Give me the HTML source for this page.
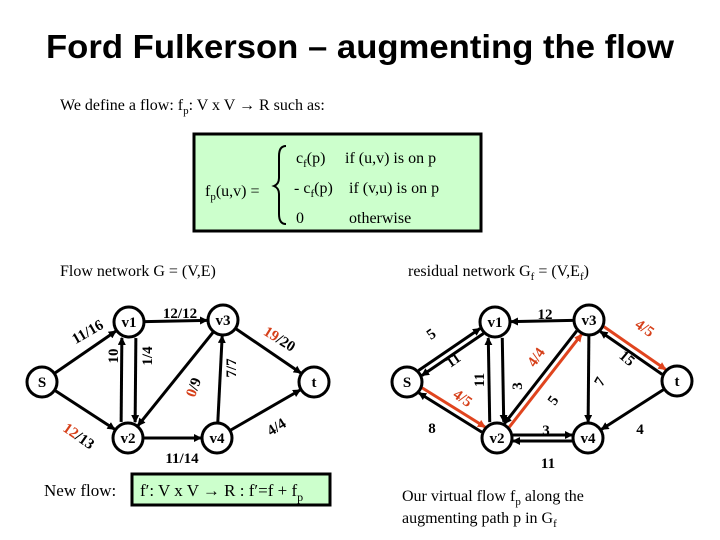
<!DOCTYPE html>
<html><head><meta charset="utf-8"><style>
body{margin:0;background:#fff}
svg{display:block}
text{font-family:"Liberation Serif",serif;font-weight:bold;fill:#000}
.n{font-size:15px}
.l{font-size:15px}
.r{fill:#d6401a}
.f{font-weight:normal;font-size:16px}
</style></head><body>
<svg id="s" width="720" height="540" viewBox="0 0 720 540" xmlns="http://www.w3.org/2000/svg">
<defs>
<marker id="a" markerWidth="8" markerHeight="8" refX="7" refY="4" orient="auto" markerUnits="userSpaceOnUse"><path d="M0,0 L8,4 L0,8 z" fill="#000"/></marker>
<marker id="ar" markerWidth="8" markerHeight="8" refX="7" refY="4" orient="auto" markerUnits="userSpaceOnUse"><path d="M0,0 L8,4 L0,8 z" fill="#e0441e"/></marker>
</defs>
<text x="360" y="58" text-anchor="middle" style="font-family:'Liberation Sans',sans-serif;font-size:33px;font-weight:bold" textLength="628" lengthAdjust="spacingAndGlyphs">Ford Fulkerson – augmenting the flow</text>
<text x="60" y="110" class="f">We define a flow: f<tspan dy="4" font-size="11">p</tspan><tspan dy="-4">: V x V → R such as:</tspan></text>

<rect x="194" y="134" width="287" height="97" fill="#ccffcc" stroke="#000" stroke-width="3"/>
<text x="205" y="196" class="f">f<tspan dy="4" font-size="11">p</tspan><tspan dy="-4">(u,v) =</tspan></text>
<path d="M286,146 Q279,146 279,156 L279,178 Q279,184 274,186 Q279,188 279,194 L279,214 Q279,224 286,224" fill="none" stroke="#000" stroke-width="2"/>
<text x="296" y="163" class="f">c<tspan dy="4" font-size="11">f</tspan><tspan dy="-4">(p)</tspan></text>
<text x="345" y="163" class="f">if (u,v) is on p</text>
<text x="294" y="193" class="f">- c<tspan dy="4" font-size="11">f</tspan><tspan dy="-4">(p)</tspan></text>
<text x="349" y="193" class="f">if (v,u) is on p</text>
<text x="296" y="223" class="f">0</text>
<text x="349" y="223" class="f">otherwise</text>

<text x="60" y="276" class="f">Flow network G = (V,E)</text>
<text x="408" y="276" class="f">residual network G<tspan dy="4" font-size="11">f</tspan><tspan dy="-4"> = (V,E</tspan><tspan dy="4" font-size="11">f</tspan><tspan dy="-4">)</tspan></text>

<text x="44" y="496" style="font-weight:normal;font-size:17px">New flow:</text>
<rect x="132" y="474" width="198" height="31" fill="#ccffcc" stroke="#000" stroke-width="3"/>
<text x="140" y="496" style="font-weight:normal;font-size:17px">f′: V x V → R :  f′=f + f<tspan dy="5" font-size="12">p</tspan></text>

<text x="402" y="501" class="f">Our virtual flow f<tspan dy="4" font-size="11">p</tspan><tspan dy="-4"> along the</tspan></text>
<text x="402" y="523" class="f">augmenting path p in G<tspan dy="4" font-size="11">f</tspan></text>
<g id="g"></g>
</svg>
<script>
var g=document.getElementById('g'),NS='http://www.w3.org/2000/svg';
function el(t,a,txt){var e=document.createElementNS(NS,t);for(var k in a)e.setAttribute(k,a[k]);if(txt!=null)e.textContent=txt;g.appendChild(e);return e;}
var L={s:[42,382],v1:[129,322],v3:[223,320],t:[314,382],v2:[128,438],v4:[217,438]};
var R={s:[407,382],v1:[495,322],v3:[589,320],t:[677,381],v2:[497,438],v4:[588,438]};
function edge(N,a,b,off,red){var A=N[a],B=N[b];var dx=B[0]-A[0],dy=B[1]-A[1],d=Math.hypot(dx,dy),ux=dx/d,uy=dy/d;var px=-uy*off,py=ux*off,r=16;
el('line',{x1:A[0]+ux*r+px,y1:A[1]+uy*r+py,x2:B[0]-ux*r+px,y2:B[1]-uy*r+py,stroke:red?'#e0441e':'#000','stroke-width':3,'marker-end':red?'url(#ar)':'url(#a)'});}
function lab(x,y,rot,parts){var t=el('text',{x:x,y:y,'class':'l','text-anchor':'middle',transform:'rotate('+rot+' '+x+' '+y+')'});parts.forEach(function(p){var s=document.createElementNS(NS,'tspan');s.textContent=p[0];if(p[1])s.setAttribute('class','r');t.appendChild(s);});}
edge(L,'s','v1',0);edge(L,'s','v2',0);edge(L,'v1','v2',-7);edge(L,'v2','v1',-7);edge(L,'v1','v3',0);edge(L,'v3','v2',0);edge(L,'v4','v3',0);edge(L,'v3','t',0);edge(L,'v2','v4',0);edge(L,'v4','t',0);
lab(90,336,-30,[['11/16']]);lab(76,440,35,[['12',1],['/13']]);lab(118,356,-90,[['10']]);lab(152,356,-90,[['1/4']]);lab(180,318,0,[['12/12']]);lab(198,389,-70,[['0',1],['/9']]);lab(236,368,-90,[['7/7']]);lab(277,343,32,[['19',1],['/20']]);lab(182,463,0,[['11/14']]);lab(279,431,-32,[['4/4']]);
edge(R,'s','v1',-3);edge(R,'v1','s',-3);edge(R,'s','v2',-3,1);edge(R,'v2','s',-3);edge(R,'v1','v2',-7);edge(R,'v2','v1',-7);edge(R,'v2','v3',3,1);edge(R,'v3','v2',3);edge(R,'v3','v1',0);edge(R,'v3','v4',0);edge(R,'v3','t',-3,1);edge(R,'t','v3',-3);edge(R,'t','v4',0);edge(R,'v2','v4',-3);edge(R,'v4','v2',-3);
lab(434,338,-35,[['5']]);lab(456,364,-35,[['11']]);lab(460,402,35,[['4/5',1]]);lab(432,433,0,[['8']]);lab(484,380,-90,[['11']]);lab(522,386,-90,[['3']]);lab(540,360,-55,[['4/4',1]]);lab(557,403,-55,[['5']]);lab(545,319,0,[['12']]);lab(604,384,-60,[['7']]);lab(642,332,35,[['4/5',1]]);lab(624,362,40,[['15']]);lab(640,434,0,[['4']]);lab(546,435,0,[['3']]);lab(548,468,0,[['11']]);
[L,R].forEach(function(N){for(var k in N){el('circle',{cx:N[k][0],cy:N[k][1],r:15,fill:'#fff',stroke:'#000','stroke-width':3});el('text',{x:N[k][0],y:N[k][1]+5,'class':'n','text-anchor':'middle'},k=='s'?'S':k);}});
</script>
</body></html>
